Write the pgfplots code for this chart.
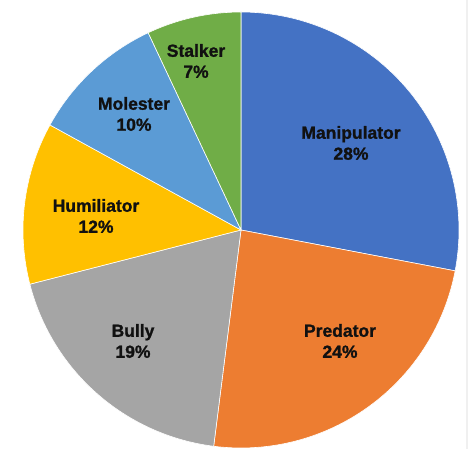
\documentclass[border=0pt]{standalone}
\usepackage{pgfplots}
\pgfplotsset{compat=1.18}
\usepackage{fontspec}
\setmainfont{Liberation Sans}[BoldFeatures={FakeBold=1.2}]
\definecolor{cManip}{HTML}{4472C4}
\definecolor{cPred}{HTML}{ED7D31}
\definecolor{cBully}{HTML}{A5A5A5}
\definecolor{cHum}{HTML}{FFC000}
\definecolor{cMol}{HTML}{5B9BD5}
\definecolor{cStalk}{HTML}{70AD47}
\definecolor{cText}{HTML}{111111}
% pie geometry (in pt of the canvas)
\def\cx{241}\def\cy{219}\def\rr{218}
% \pieslice{cumulative share before}{share}{colour}
\newcommand{\pieslice}[3]{%
  \pgfmathsetmacro{\aStart}{90-3.6*(#1)}%
  \pgfmathsetmacro{\aEnd}{90-3.6*((#1)+(#2))}%
  \edef\tmp{\noexpand\addplot[fill=#3, draw=white, line width=0.6pt, domain=\aEnd:\aStart, samples=90]
    ({\cx+\rr*cos(x)},{\cy+\rr*sin(x)}) -- (axis cs:\cx,\cy) -- cycle;}%
  \tmp}
\begin{document}
\begin{tikzpicture}
\begin{axis}[
  x=1pt, y=1pt, xmin=0, xmax=468, ymin=0, ymax=449,
  scale only axis, hide axis, clip=false,
]
\path[fill=white] (axis cs:0,0) rectangle (axis cs:468,449);
\fill[gray!12] (axis cs:466,0) rectangle (axis cs:468,449);
% shares (percent): Manipulator 28, Predator 24, Bully 19, Humiliator 12, Molester 10, Stalker 7
\pieslice{0}{28}{cManip}
\pieslice{28}{24}{cPred}
\pieslice{52}{19}{cBully}
\pieslice{71}{12}{cHum}
\pieslice{83}{10}{cMol}
\pieslice{93}{7}{cStalk}
\begin{scope}[every node/.style={align=center, text=cText, font=\fontsize{17.5}{21}\selectfont\bfseries}]
\node at (axis cs:351,306) {Manipulator\\28\%};
\node at (axis cs:340,108) {Predator\\24\%};
\node at (axis cs:133,108) {Bully\\19\%};
\node at (axis cs:96,233) {Humiliator\\12\%};
\node at (axis cs:134,335) {Molester\\10\%};
\node at (axis cs:196,388) {Stalker\\7\%};
\end{scope}
\end{axis}
\end{tikzpicture}
\end{document}
